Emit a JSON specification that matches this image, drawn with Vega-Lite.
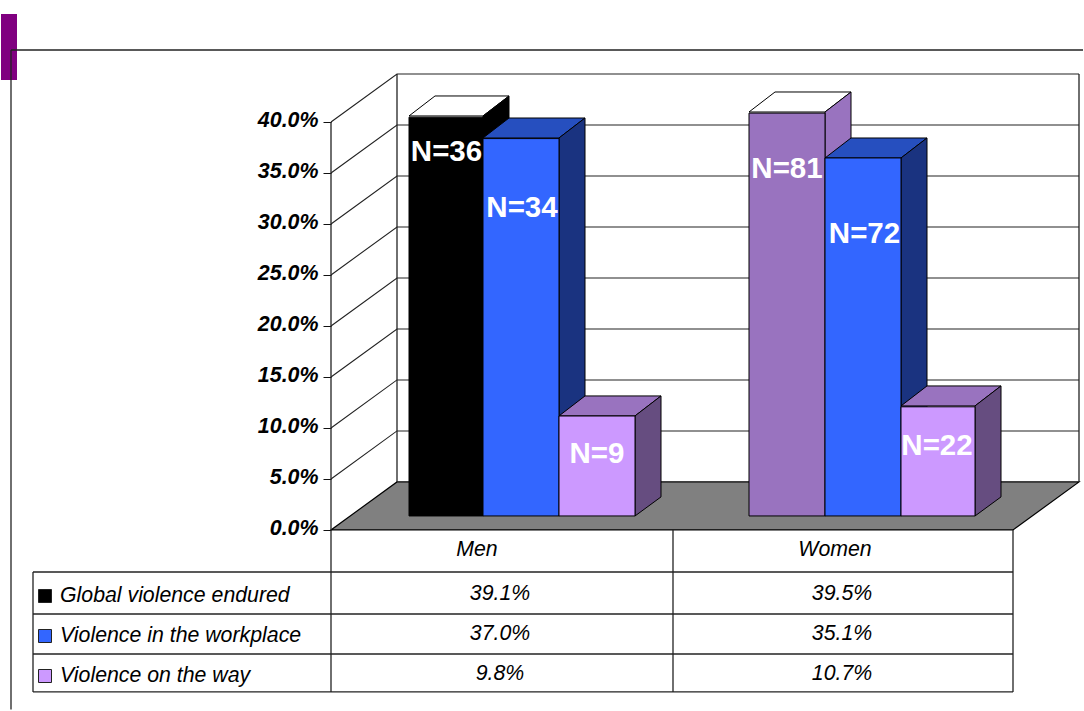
{"$schema":"https://vega.github.io/schema/vega-lite/v6.json","width":1084,"height":711,"padding":0,"autosize":{"type":"fit","contains":"padding"},"background":"white","config":{"view":{"stroke":null},"font":"Liberation Sans"},
"datasets":{
"bars":[
{"group":"Men","series":"Global violence endured","value":39.1,"x0":409,"x1":483,"face":"Men Global front"},
{"group":"Men","series":"Violence in the workplace","value":37.0,"x0":483,"x1":559,"face":"Men Workplace front"},
{"group":"Men","series":"Violence on the way","value":9.8,"x0":559,"x1":635,"face":"Men Way front"},
{"group":"Women","series":"Global violence endured","value":39.5,"x0":749,"x1":825,"face":"Women Global front"},
{"group":"Women","series":"Violence in the workplace","value":35.1,"x0":825,"x1":901,"face":"Women Workplace front"},
{"group":"Women","series":"Violence on the way","value":10.7,"x0":901,"x1":975,"face":"Women Way front"}],
"faces":[
{"series":"Global violence endured","face":"Men Global top","x":409,"y0":40.59,"y1":40.59},{"series":"Global violence endured","face":"Men Global top","x":435,"y0":40.59,"y1":42.55},{"series":"Global violence endured","face":"Men Global top","x":483,"y0":40.59,"y1":42.55},{"series":"Global violence endured","face":"Men Global top","x":509,"y0":42.55,"y1":42.55},
{"series":"Global violence endured","face":"Men Global side","x":483,"y0":1.37,"y1":40.59},{"series":"Global violence endured","face":"Men Global side","x":509,"y0":3.24,"y1":42.55},
{"series":"Violence in the workplace","face":"Men Workplace top","x":483,"y0":38.43,"y1":38.43},{"series":"Violence in the workplace","face":"Men Workplace top","x":509,"y0":38.43,"y1":40.39},{"series":"Violence in the workplace","face":"Men Workplace top","x":559,"y0":38.43,"y1":40.39},{"series":"Violence in the workplace","face":"Men Workplace top","x":585,"y0":40.39,"y1":40.39},
{"series":"Violence in the workplace","face":"Men Workplace side","x":559,"y0":1.37,"y1":38.43},{"series":"Violence in the workplace","face":"Men Workplace side","x":585,"y0":3.24,"y1":40.39},
{"series":"Violence on the way","face":"Men Way top","x":559,"y0":11.18,"y1":11.18},{"series":"Violence on the way","face":"Men Way top","x":585,"y0":11.18,"y1":13.14},{"series":"Violence on the way","face":"Men Way top","x":635,"y0":11.18,"y1":13.14},{"series":"Violence on the way","face":"Men Way top","x":661,"y0":13.14,"y1":13.14},
{"series":"Violence on the way","face":"Men Way side","x":635,"y0":1.37,"y1":11.18},{"series":"Violence on the way","face":"Men Way side","x":661,"y0":3.24,"y1":13.14},
{"series":"Global violence endured","face":"Women Global top","x":749,"y0":40.98,"y1":40.98},{"series":"Global violence endured","face":"Women Global top","x":775,"y0":40.98,"y1":42.94},{"series":"Global violence endured","face":"Women Global top","x":825,"y0":40.98,"y1":42.94},{"series":"Global violence endured","face":"Women Global top","x":851,"y0":42.94,"y1":42.94},
{"series":"Global violence endured","face":"Women Global side","x":825,"y0":1.37,"y1":40.98},{"series":"Global violence endured","face":"Women Global side","x":851,"y0":3.24,"y1":42.94},
{"series":"Violence in the workplace","face":"Women Workplace top","x":825,"y0":36.47,"y1":36.47},{"series":"Violence in the workplace","face":"Women Workplace top","x":851,"y0":36.47,"y1":38.43},{"series":"Violence in the workplace","face":"Women Workplace top","x":901,"y0":36.47,"y1":38.43},{"series":"Violence in the workplace","face":"Women Workplace top","x":927,"y0":38.43,"y1":38.43},
{"series":"Violence in the workplace","face":"Women Workplace side","x":901,"y0":1.37,"y1":36.47},{"series":"Violence in the workplace","face":"Women Workplace side","x":927,"y0":3.24,"y1":38.43},
{"series":"Violence on the way","face":"Women Way top","x":901,"y0":12.16,"y1":12.16},{"series":"Violence on the way","face":"Women Way top","x":927,"y0":12.16,"y1":14.12},{"series":"Violence on the way","face":"Women Way top","x":975,"y0":12.16,"y1":14.12},{"series":"Violence on the way","face":"Women Way top","x":1001,"y0":14.12,"y1":14.12},
{"series":"Violence on the way","face":"Women Way side","x":975,"y0":1.37,"y1":12.16},{"series":"Violence on the way","face":"Women Way side","x":1001,"y0":3.24,"y1":14.12}],
"floor":[{"x":331,"y0":0,"y1":0,"face":"Floor"},{"x":397,"y0":0,"y1":4.71,"face":"Floor"},{"x":1013,"y0":0,"y1":4.71,"face":"Floor"},{"x":1079,"y0":4.71,"y1":4.71,"face":"Floor"}],
"grid":[
{"level":5,"x":331,"y":5},{"level":5,"x":397,"y":9.71},{"level":5,"x":1079,"y":9.71},
{"level":10,"x":331,"y":10},{"level":10,"x":397,"y":14.71},{"level":10,"x":1079,"y":14.71},
{"level":15,"x":331,"y":15},{"level":15,"x":397,"y":19.71},{"level":15,"x":1079,"y":19.71},
{"level":20,"x":331,"y":20},{"level":20,"x":397,"y":24.71},{"level":20,"x":1079,"y":24.71},
{"level":25,"x":331,"y":25},{"level":25,"x":397,"y":29.71},{"level":25,"x":1079,"y":29.71},
{"level":30,"x":331,"y":30},{"level":30,"x":397,"y":34.71},{"level":30,"x":1079,"y":34.71},
{"level":35,"x":331,"y":35},{"level":35,"x":397,"y":39.71},{"level":35,"x":1079,"y":39.71},
{"level":40,"x":331,"y":40},{"level":40,"x":397,"y":44.71},{"level":40,"x":1079,"y":44.71}],
"rules":[
{"x":11,"x2":1083,"y":47.06,"y2":47.06},{"x":11,"x2":11,"y":47.06,"y2":-17.6},
{"x":331,"x2":331,"y":40,"y2":-15.88},{"x":397,"x2":397,"y":4.71,"y2":44.71},{"x":1079,"x2":1079,"y":4.71,"y2":44.71},
{"x":33,"x2":1013,"y":-4.12,"y2":-4.12},{"x":33,"x2":1013,"y":-8.24,"y2":-8.24},{"x":33,"x2":1013,"y":-12.16,"y2":-12.16},{"x":33,"x2":1013,"y":-15.88,"y2":-15.88},
{"x":33,"x2":33,"y":-4.12,"y2":-15.88},{"x":673,"x2":673,"y":0,"y2":-15.88},{"x":1013,"x2":1013,"y":0,"y2":-15.88}],
"badge":[{"x":1,"x2":17,"y":50.59,"y2":44.12}],
"nlabels":[
{"label":"N=36","x":446.5,"y":37.16},{"label":"N=34","x":522,"y":31.67},{"label":"N=9","x":597,"y":7.55},
{"label":"N=81","x":787,"y":35.49},{"label":"N=72","x":864.5,"y":29.12},{"label":"N=22","x":937,"y":8.33}],
"table":[
{"series":"Global violence endured","group":"Men","text":"39.1%"},{"series":"Global violence endured","group":"Women","text":"39.5%"},
{"series":"Violence in the workplace","group":"Men","text":"37.0%"},{"series":"Violence in the workplace","group":"Women","text":"35.1%"},
{"series":"Violence on the way","group":"Men","text":"9.8%"},{"series":"Violence on the way","group":"Women","text":"10.7%"}],
"seriesList":[{"series":"Global violence endured"},{"series":"Violence in the workplace"},{"series":"Violence on the way"}],
"groups":[{"group":"Men"},{"group":"Women"}]
},
"resolve":{"scale":{"x":"independent","y":"independent","color":"independent"},"axis":{"x":"independent","y":"independent"}},
"layer":[
{"layer":[
{"data":{"name":"badge"},"mark":{"type":"rect","color":"#800080"},"encoding":{"x":{"field":"x","type":"quantitative","scale":{"domain":[0,1084],"nice":false,"zero":false},"axis":null},"x2":{"field":"x2"},"y":{"field":"y","type":"quantitative","scale":{"domain":[-17.75,51.96],"nice":false,"zero":false},"axis":{"title":null,"values":[0,5,10,15,20,25,30,35,40],"offset":-331,"domain":false,"grid":false,"tickSize":8,"tickColor":"#111","labelPadding":5,"labelFont":"Liberation Sans","labelFontSize":21.4,"labelFontWeight":"bold","labelFontStyle":"italic","labelColor":"#000","labelOffset":-1,"labelExpr":"format(datum.value,'.1f')+'%'","labelOverlap":false,"labelFlush":false}},"y2":{"field":"y2"}}},
{"data":{"name":"grid"},"mark":{"type":"line","color":"#222","strokeWidth":1.1},"encoding":{"x":{"field":"x","type":"quantitative"},"y":{"field":"y","type":"quantitative"},"detail":{"field":"level"}}},
{"data":{"name":"floor"},"mark":{"type":"area","color":"#808080","stroke":"black","strokeWidth":1.2},"encoding":{"x":{"field":"x","type":"quantitative"},"y":{"field":"y0","type":"quantitative"},"y2":{"field":"y1"}}},
{"data":{"name":"rules"},"mark":{"type":"rule","color":"#222","strokeWidth":1.3},"encoding":{"x":{"field":"x","type":"quantitative"},"x2":{"field":"x2"},"y":{"field":"y","type":"quantitative"},"y2":{"field":"y2"}}},
{"data":{"name":"faces"},"transform":[{"filter":"datum.series==='Global violence endured'"}],"mark":{"type":"area","stroke":"black","strokeWidth":1,"opacity":1},"encoding":{"x":{"field":"x","type":"quantitative"},"y":{"field":"y0","type":"quantitative"},"y2":{"field":"y1"},"color":{"field":"face","type":"nominal","legend":null,"scale":{"domain":["Men Global top","Men Global side","Men Global front","Men Workplace top","Men Workplace side","Men Workplace front","Men Way top","Men Way side","Men Way front","Women Global top","Women Global side","Women Global front","Women Workplace top","Women Workplace side","Women Workplace front","Women Way top","Women Way side","Women Way front"],"range":["#ffffff","#000000","#000000","#264FBF","#1A3380","#3366FF","#9973BF","#664D80","#CC99FF","#ffffff","#9973BF","#9973BF","#264FBF","#1A3380","#3366FF","#9973BF","#664D80","#CC99FF"]}}}},
{"data":{"name":"bars"},"transform":[{"filter":"datum.series==='Global violence endured'"}],"mark":{"type":"rect","stroke":"black","strokeWidth":1,"yOffset":-14,"y2Offset":-14},"encoding":{"x":{"field":"x0","type":"quantitative"},"x2":{"field":"x1"},"y":{"field":"value","type":"quantitative"},"y2":{"datum":0},"color":{"field":"face","type":"nominal","legend":null}}},
{"data":{"name":"faces"},"transform":[{"filter":"datum.series==='Violence in the workplace'"}],"mark":{"type":"area","stroke":"black","strokeWidth":1,"opacity":1},"encoding":{"x":{"field":"x","type":"quantitative"},"y":{"field":"y0","type":"quantitative"},"y2":{"field":"y1"},"color":{"field":"face","type":"nominal","legend":null}}},
{"data":{"name":"bars"},"transform":[{"filter":"datum.series==='Violence in the workplace'"}],"mark":{"type":"rect","stroke":"black","strokeWidth":1,"yOffset":-14,"y2Offset":-14},"encoding":{"x":{"field":"x0","type":"quantitative"},"x2":{"field":"x1"},"y":{"field":"value","type":"quantitative"},"y2":{"datum":0},"color":{"field":"face","type":"nominal","legend":null}}},
{"data":{"name":"faces"},"transform":[{"filter":"datum.series==='Violence on the way'"}],"mark":{"type":"area","stroke":"black","strokeWidth":1,"opacity":1},"encoding":{"x":{"field":"x","type":"quantitative"},"y":{"field":"y0","type":"quantitative"},"y2":{"field":"y1"},"color":{"field":"face","type":"nominal","legend":null}}},
{"data":{"name":"bars"},"transform":[{"filter":"datum.series==='Violence on the way'"}],"mark":{"type":"rect","stroke":"black","strokeWidth":1,"yOffset":-14,"y2Offset":-14},"encoding":{"x":{"field":"x0","type":"quantitative"},"x2":{"field":"x1"},"y":{"field":"value","type":"quantitative"},"y2":{"datum":0},"color":{"field":"face","type":"nominal","legend":null}}},
{"data":{"name":"nlabels"},"mark":{"type":"text","color":"white","font":"Liberation Sans","fontSize":29.5,"fontWeight":"bold","baseline":"middle","align":"center","dy":1},"encoding":{"x":{"field":"x","type":"quantitative"},"y":{"field":"y","type":"quantitative"},"text":{"field":"label"}}}
]},
{"data":{"name":"table"},"mark":{"type":"text","font":"Liberation Sans","fontSize":21.3,"fontStyle":"italic","color":"#000","baseline":"middle","align":"center"},"encoding":{"x":{"field":"group","type":"nominal","axis":null,"scale":{"type":"point","domain":["Men","Women"],"range":[500,842],"padding":0}},"y":{"field":"series","type":"nominal","axis":null,"scale":{"type":"point","domain":["Global violence endured","Violence in the workplace","Violence on the way"],"range":[594,674],"padding":0}},"text":{"field":"text"}}},
{"data":{"name":"groups"},"mark":{"type":"text","font":"Liberation Sans","fontSize":21.3,"fontStyle":"italic","color":"#000","baseline":"middle","align":"center"},"encoding":{"x":{"field":"group","type":"nominal","axis":null,"scale":{"type":"point","domain":["Men","Women"],"range":[477,835],"padding":0}},"y":{"datum":"head","type":"nominal","axis":null,"scale":{"type":"point","domain":["head"],"range":[550,550],"padding":0}},"text":{"field":"group"}}},
{"data":{"name":"seriesList"},"mark":{"type":"text","font":"Liberation Sans","fontSize":21.3,"fontStyle":"italic","color":"#000","baseline":"middle","align":"left"},"encoding":{"x":{"datum":"label","type":"nominal","axis":null,"scale":{"type":"point","domain":["label"],"range":[60,60],"padding":0}},"y":{"field":"series","type":"nominal","axis":null,"scale":{"type":"point","domain":["Global violence endured","Violence in the workplace","Violence on the way"],"range":[596,676],"padding":0}},"text":{"field":"series"}}},
{"data":{"name":"seriesList"},"mark":{"type":"point","shape":"square","filled":true,"size":169,"stroke":"#222","strokeWidth":1,"opacity":1},"encoding":{"x":{"datum":"swatch","type":"nominal","axis":null,"scale":{"type":"point","domain":["swatch"],"range":[45,45],"padding":0}},"y":{"field":"series","type":"nominal","axis":null,"scale":{"type":"point","domain":["Global violence endured","Violence in the workplace","Violence on the way"],"range":[596,676],"padding":0}},"color":{"field":"series","type":"nominal","legend":null,"scale":{"domain":["Global violence endured","Violence in the workplace","Violence on the way"],"range":["#000000","#3366FF","#CC99FF"]}}}}
]}
